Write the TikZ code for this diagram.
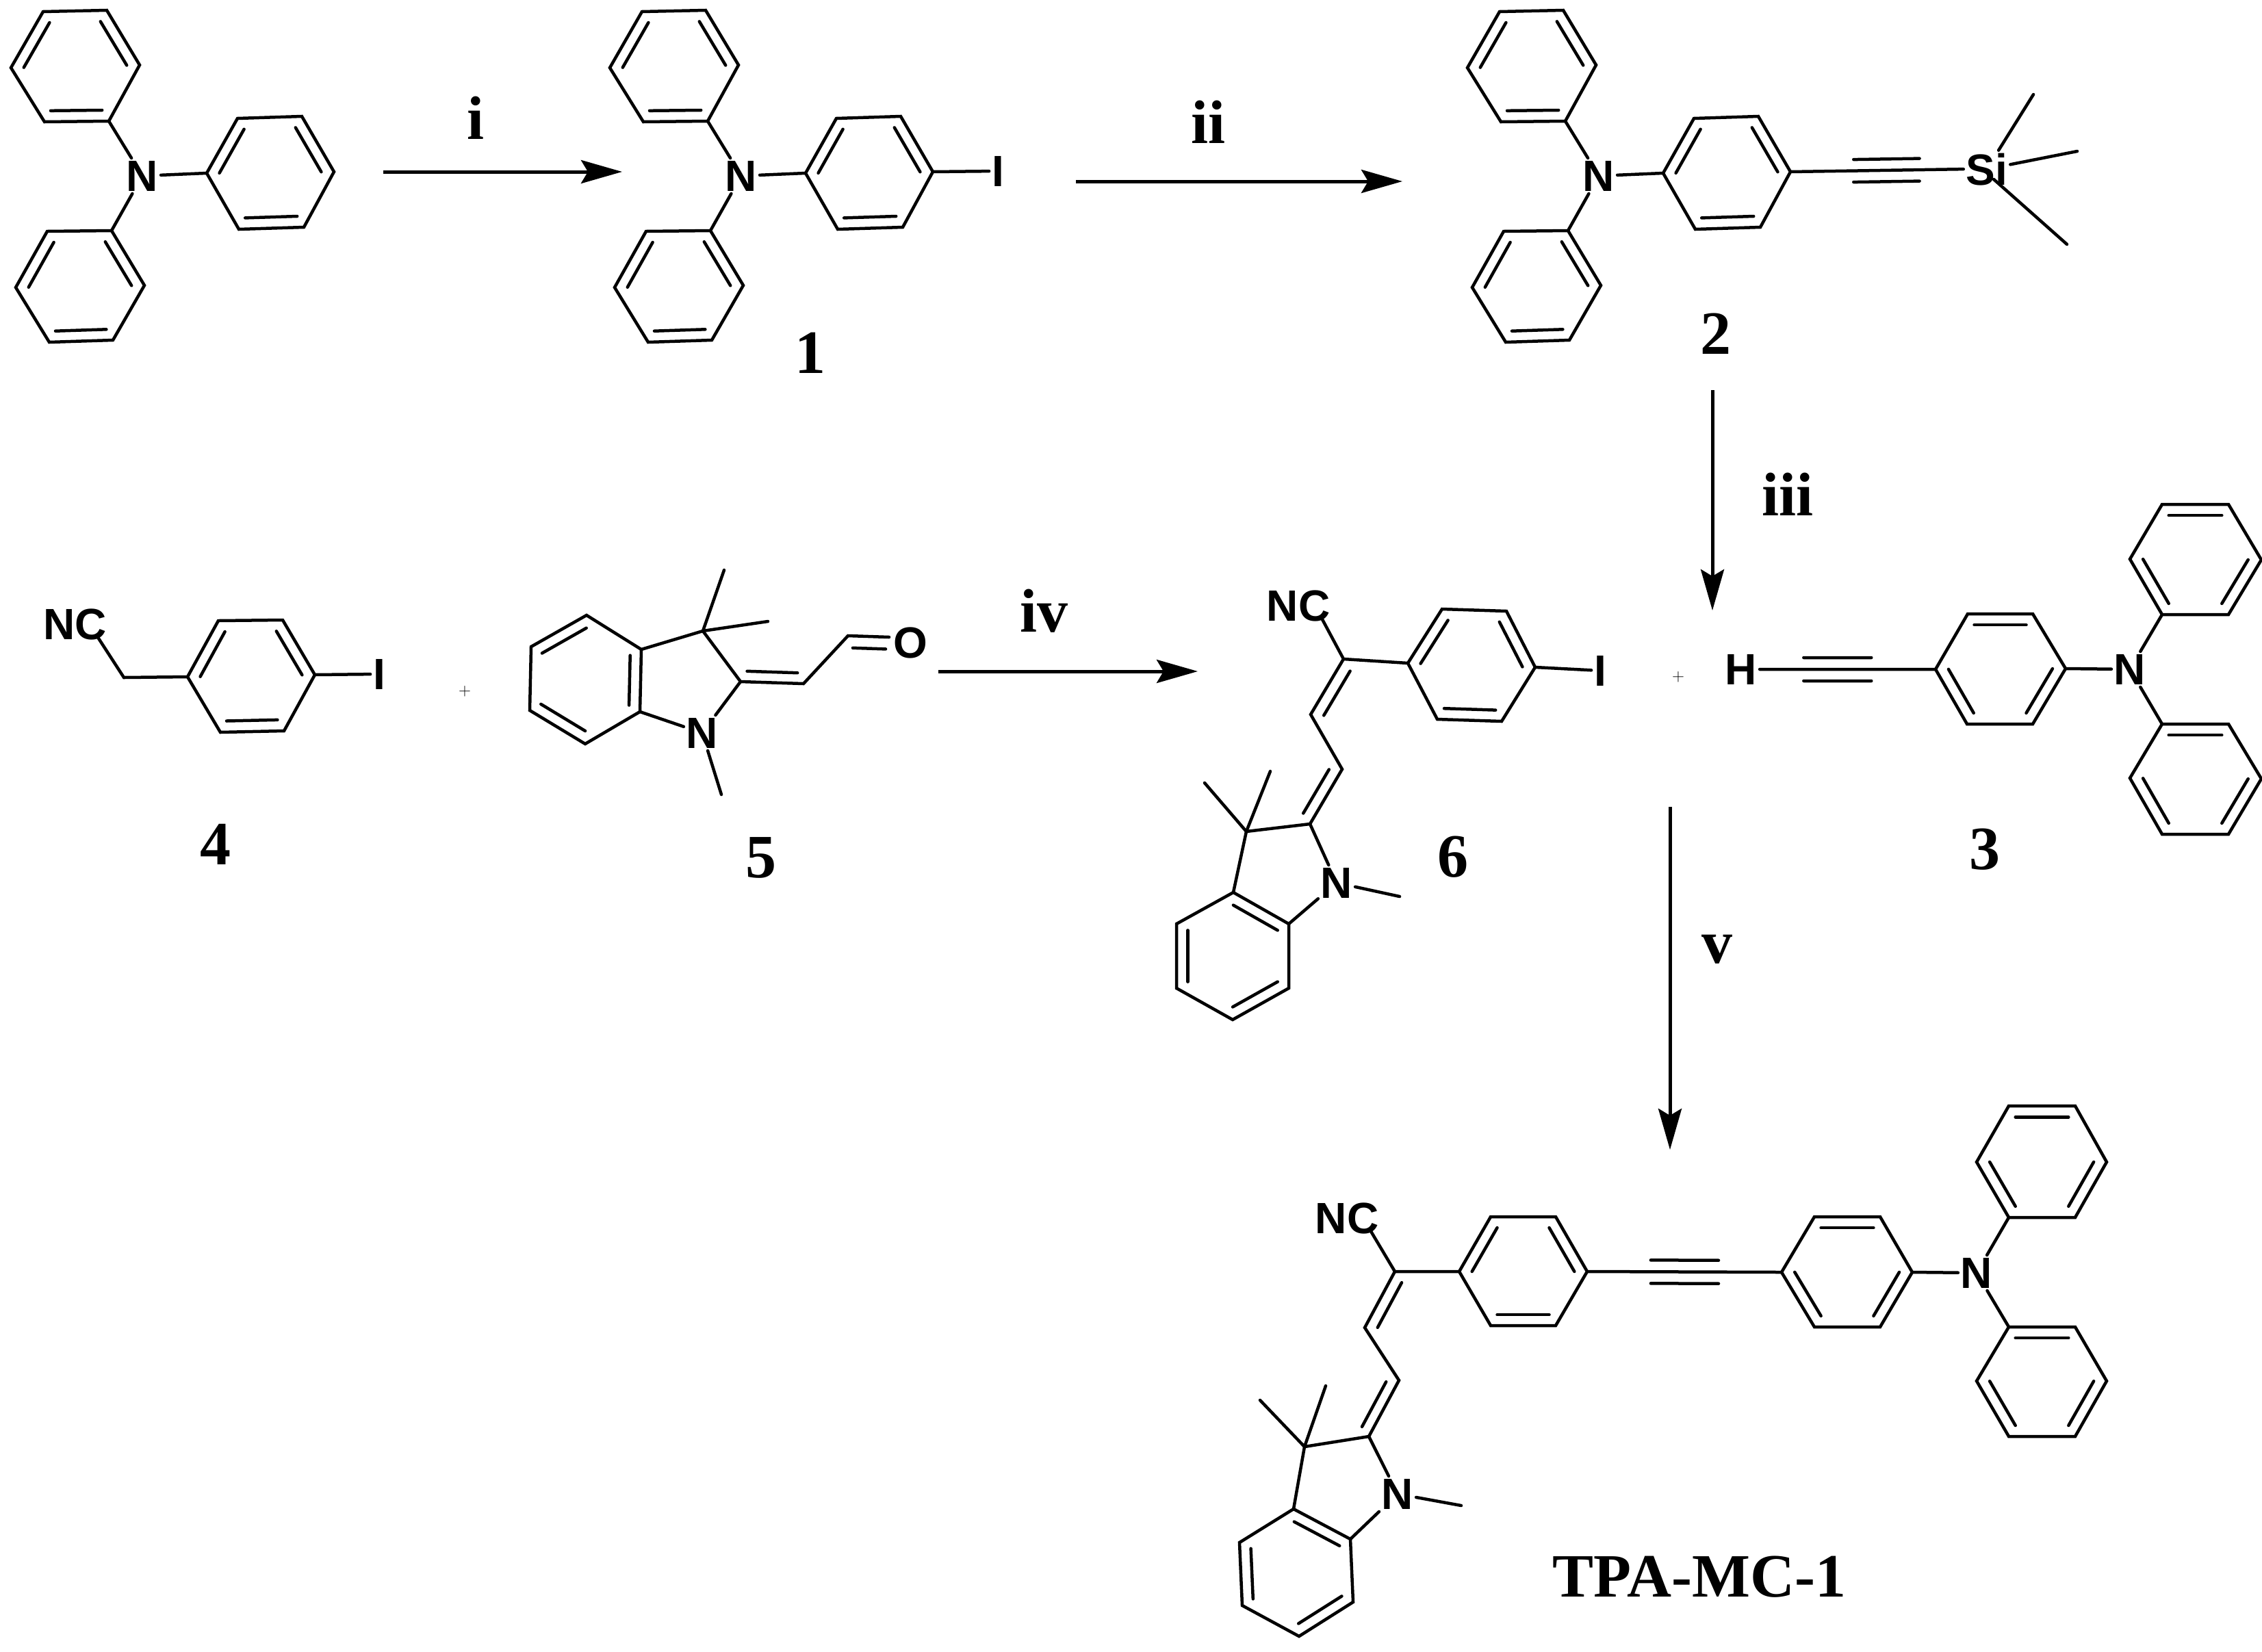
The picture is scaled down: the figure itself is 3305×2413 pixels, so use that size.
\documentclass[tikz,border=0pt]{standalone}
\usepackage{fontspec}
\usetikzlibrary{arrows.meta,calc}
\newfontfamily\labelfont{Liberation Serif}
\newfontfamily\atomfont{Liberation Sans}

\tikzset{
  bond/.style={line width=4.5pt,line cap=round,line join=miter},
  atom/.style={font=\atomfont\bfseries\fontsize{64}{64}\selectfont,inner sep=0pt,outer sep=4pt,anchor=base},
  cpd/.style={font=\labelfont\bfseries\fontsize{90}{90}\selectfont,inner sep=0pt,anchor=base},
  plussign/.style={font=\fontsize{98}{98}\selectfont,inner sep=0pt,anchor=base},
  rxn/.style={-{Stealth[length=60pt,width=34pt,inset=10pt]},line width=5pt}
}

% benzene ring: six corners, inner lines on 1-2, 3-4 and 5-6
\newcommand\phring[7]{%
  \coordinate (#11) at (#2);
  \coordinate (#12) at (#3);
  \coordinate (#13) at (#4);
  \coordinate (#14) at (#5);
  \coordinate (#15) at (#6);
  \coordinate (#16) at (#7);
  \coordinate (#1c) at ($(#11)!.5!(#14)$);
  \draw[bond] (#11) -- (#12) -- (#13) -- (#14) -- (#15) -- (#16) -- cycle;
  \foreach \p/\q in {1/2,3/4,5/6}
    \draw[bond] ($(#1\p)!.2!(#1c)$) -- ($(#1\q)!.2!(#1c)$);
}

% second line of a double bond, pulled towards a point
\newcommand\inbond[3]{\draw[bond] ($(#1)!.2!(#3)$) -- ($(#2)!.2!(#3)$);}

% the two outer lines of a triple bond
\newcommand\tribond[5]{%
  \draw[bond] ($(#1)!#3!(#2)+(0,-#5)$) -- ($(#1)!#4!(#2)+(0,-#5)$);
  \draw[bond] ($(#1)!#3!(#2)+(0,#5)$) -- ($(#1)!#4!(#2)+(0,#5)$);
}

% the triphenylamine of the top row
\newcommand\tpaunit[1]{%
  \phring{#1a}{16,99}{63,17}{156,15}{204,95}{159,177}{65,178}
  \phring{#1b}{302,253}{347,173}{441,170}{488,251}{444,332}{349,335}
  \phring{#1d}{23,420}{69,338}{163,337}{211,417}{165,497}{72,500}
  \node[atom] (#1n) at (208,279) {N};
  \draw[bond] (#1a5) -- (#1n);
  \draw[bond] (#1n) -- (#1b1);
  \draw[bond] (#1n) -- (#1d3);
}

\begin{document}
\begin{tikzpicture}[x=1pt,y=-1pt]
  \useasboundingbox (0,0) rectangle (3305,2413);

  % top row
  \tpaunit{t}
  \begin{scope}[xshift=875pt]
    \tpaunit{u}
  \end{scope}
  \begin{scope}[xshift=2128pt]
    \tpaunit{v}
  \end{scope}

  % iodide 1
  \node[atom] (iu) at (1458,272) {I};
  \draw[bond] (ub4) -- (iu);
  \node[cpd] (cpd1) at (1184,545) {1};

  % silane 2
  \node[atom] (si) at (2903,270) {Si};
  \draw[bond] (vb4) -- (si.west);
  \tribond{vb4}{si.west}{.365}{.746}{16.5}
  \coordinate (sime1) at (2971,138);
  \coordinate (sime2) at (3035,221);
  \coordinate (siin) at (2913,262);
  \coordinate (sime3) at (3020,357);
  \draw[bond] (si) -- (sime1);
  \draw[bond] (si) -- (sime2);
  \draw[bond] (siin) -- (sime3);
  \node[cpd] (cpd2) at (2507,517) {2};

  % acetonitrile 4
  \phring{r}{274,989}{319,907}{413,906}{460,986}{415,1068}{322,1070}
  \coordinate (ch2) at (181,990);
  \node[atom] (ncr) at (110,934) {NC};
  \node[atom] (ir) at (554,1007) {I};
  \draw[bond] (r1) -- (ch2) -- ([xshift=-17pt,yshift=7pt]ncr.south east);
  \draw[bond] (r4) -- (ir);
  \node[cpd] (cpd4) at (315,1263) {4};
  \node[plussign] (plusa) at (679,1016) {$+$};

  % aldehyde 5
  \phring{s}{776,945}{857,899}{937,949}{935,1040}{855,1087}{774,1038}
  \node[atom] (ns) at (1026,1093) {N};
  \node[atom] (os) at (1330,961) {O};
  \coordinate (c3s) at (1027,922);
  \coordinate (c2s) at (1082,996);
  \coordinate (c1s) at (1174,999);
  \coordinate (chos) at (1239,929);
  \coordinate (coend) at (1299,931);
  \coordinate (mesa) at (1058,833);
  \coordinate (mesb) at (1122,908);
  \coordinate (mesc) at (1054,1161);
  \draw[bond] (s3) -- (c3s) -- (c2s) -- (c1s) -- (chos) -- (coend);
  \draw[bond] (c3s) -- (mesa);
  \draw[bond] (c3s) -- (mesb);
  \draw[bond] (s4) -- (ns);
  \draw[bond] (c2s) -- (ns);
  \draw[bond] (ns) -- (mesc);
  \inbond{c2s}{c1s}{1130,920}
  \inbond{chos}{coend}{1274,1018}
  \node[cpd] (cpd5) at (1112,1282) {5};

  % nitrile 6
  \phring{w}{2057,969}{2107,890}{2201,893}{2243,975}{2194,1054}{2100,1051}
  \phring{x}{1802,1304}{1883,1350}{1883,1444}{1801,1490}{1719,1444}{1719,1350}
  \node[atom] (ncw) at (1897,907) {NC};
  \node[atom] (iw) at (2338,1002) {I};
  \node[atom] (nw) at (1953,1312) {N};
  \coordinate (ca) at (1963,963);
  \coordinate (cb) at (1915,1044);
  \coordinate (cc) at (1961,1124);
  \coordinate (cd) at (1914,1204);
  \coordinate (ce) at (1821,1215);
  \coordinate (mewa) at (1856,1127);
  \coordinate (mewb) at (1760,1144);
  \coordinate (mewc) at (2045,1310);
  \draw[bond] (w1) -- (ca) -- (cb) -- (cc) -- (cd) -- (ce) -- (x1);
  \draw[bond] (ca) -- ([xshift=-16pt,yshift=8pt]ncw.south east);
  \draw[bond] (w4) -- (iw);
  \draw[bond] (ce) -- (mewa);
  \draw[bond] (ce) -- (mewb);
  \draw[bond] (cd) -- (nw);
  \draw[bond] (x2) -- (nw);
  \draw[bond] (nw) -- (mewc);
  \inbond{ca}{cb}{2011,1051}
  \inbond{cc}{cd}{1865,1126}
  \node[cpd] (cpd6) at (2123,1281) {6};
  \node[plussign] (plusb) at (2452,995) {$+$};

  % alkyne 3
  \phring{y}{2875,897}{2970,897}{3018,977}{2970,1058}{2874,1058}{2828,978}
  \phring{ya}{3159,737}{3256,737}{3304,818}{3256,898}{3159,898}{3112,817}
  \phring{yb}{3159,1058}{3256,1058}{3304,1138}{3256,1219}{3159,1219}{3112,1137}
  \node[atom] (hy) at (2544,1000) {H};
  \node[atom] (ny) at (3112,1000) {N};
  \draw[bond] (hy.east) -- (y6);
  \tribond{hy.east}{y6}{.25}{.635}{17}
  \draw[bond] (y3) -- (ny);
  \draw[bond] (ny) -- (ya5);
  \draw[bond] (ny) -- (yb1);
  \node[cpd] (cpd3) at (2900,1270) {3};

  % TPA-MC-1
  \phring{f}{2132,1858}{2178,1778}{2273,1778}{2319,1858}{2273,1937}{2178,1937}
  \phring{g}{2651,1778}{2747,1778}{2794,1859}{2747,1939}{2651,1939}{2603,1859}
  \phring{ga}{2935,1616}{3032,1616}{3078,1698}{3032,1779}{2935,1779}{2888,1698}
  \phring{gb}{2935,1939}{3032,1939}{3078,2018}{3032,2099}{2935,2099}{2888,2018}
  \phring{h}{1890,2205}{1973,2249}{1977,2341}{1898,2391}{1815,2346}{1811,2254}
  \node[atom] (ncf) at (1968,1802) {NC};
  \node[atom] (nh) at (2042,2205) {N};
  \node[atom] (ng) at (2888,1882) {N};
  \coordinate (fa) at (2038,1858);
  \coordinate (fb) at (1994,1940);
  \coordinate (fc) at (2044,2017);
  \coordinate (fd) at (2000,2099);
  \coordinate (fe) at (1906,2114);
  \coordinate (meha) at (1937,2025);
  \coordinate (mehb) at (1841,2046);
  \coordinate (mehc) at (2135,2200);
  \draw[bond] (f1) -- (fa) -- (fb) -- (fc) -- (fd) -- (fe) -- (h1);
  \draw[bond] (fa) -- ([xshift=-15pt,yshift=7pt]ncf.south east);
  \draw[bond] (fe) -- (meha);
  \draw[bond] (fe) -- (mehb);
  \draw[bond] (fd) -- (nh);
  \draw[bond] (h2) -- (nh);
  \draw[bond] (nh) -- (mehc);
  \inbond{fa}{fb}{2088,1939}
  \inbond{fc}{fd}{1950,2028}
  \draw[bond] (f4) -- (g6);
  \tribond{f4}{g6}{.327}{.676}{17}
  \draw[bond] (g3) -- (ng);
  \draw[bond] (ng) -- (ga5);
  \draw[bond] (ng) -- (gb1);
  \node[cpd] (cpdf) at (2483,2333) {TPA-MC-1};

  % reaction arrows and their reagents
  \coordinate (ariа) at (560,251);
  \coordinate (arib) at (909,251);
  \coordinate (ariia) at (1572,265);
  \coordinate (ariib) at (2049,265);
  \coordinate (ariiia) at (2502,570);
  \coordinate (ariiib) at (2502,892);
  \coordinate (ariva) at (1371,981);
  \coordinate (arivb) at (1750,981);
  \coordinate (arva) at (2440,1179);
  \coordinate (arvb) at (2440,1680);
  \draw[rxn] (ariа) -- (arib);
  \draw[rxn] (ariia) -- (ariib);
  \draw[rxn] (ariiia) -- (ariiib);
  \draw[rxn] (ariva) -- (arivb);
  \draw[rxn] (arva) -- (arvb);
  \node[cpd] (sti) at (695,203) {i};
  \node[cpd] (stii) at (1765,209) {ii};
  \node[cpd] (stiii) at (2612,753) {iii};
  \node[cpd] (stiv) at (1525,923) {iv};
  \node[cpd] (stv) at (2509,1407) {v};
\end{tikzpicture}
\end{document}
